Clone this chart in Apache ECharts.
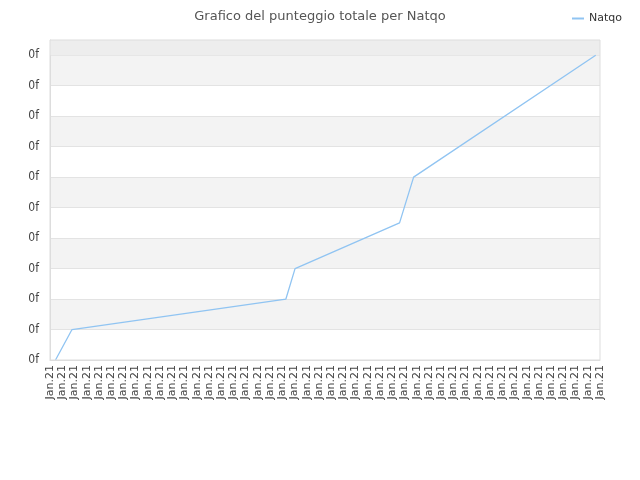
<!DOCTYPE html>
<html>
<head>
<meta charset="utf-8">
<script src="https://cdn.jsdelivr.net/npm/echarts@6/dist/echarts.min.js"></script>
<style>
html, body { margin: 0; padding: 0; background: #fff; }
#chart { width: 640px; height: 480px; }
</style>
</head>
<body>
<div id="chart"></div>
<script>
// tick labels of the x axis (all read "Jan.21")
const xLabels = Array(46).fill('Jan.21')
// line vertices: position along the label axis, total score
const scorePos = [0.45, 1.8, 19.3, 20.05, 28.6, 29.75, 44.65]
const scoreVal = [0, 1, 2, 3, 4.5, 6, 10]
const seriesName = 'Natqo'

const chart = echarts.init(document.getElementById('chart'))

const option = {
    animation: false,
    title: {
        text: 'Grafico del punteggio totale per Natqo',
        left: 'center',
        top: 5,
        textStyle: { fontFamily: 'DejaVu Sans', fontSize: 13, fontWeight: 'normal', color: '#555' }
    },
    legend: {
        right: 13,
        top: 8,
        itemWidth: 12,
        itemHeight: 2,
        itemGap: 8,
        icon: 'rect',
        textStyle: { fontFamily: 'DejaVu Sans', fontSize: 11, color: '#333' },
        data: [seriesName]
    },
    grid: { left: 50, right: 40, top: 40, bottom: 120, containLabel: false },
    xAxis: [
        {
            type: 'category',
            data: xLabels,
            boundaryGap: false,
            axisLine: { lineStyle: { color: '#ddd' } },
            axisTick: { show: false },
            axisLabel: {
                interval: 0, rotate: 90, margin: 5,
                fontFamily: 'DejaVu Sans', fontSize: 11, color: '#444'
            },
            splitLine: { show: false }
        },
        { type: 'value', min: 0, max: 45, show: false }
    ],
    yAxis: {
        type: 'value',
        min: 0,
        max: 10.5,
        interval: 1,
        axisLine: { show: true, lineStyle: { color: '#ddd' } },
        axisTick: { show: false },
        axisLabel: {
            showMaxLabel: false, margin: 11,
            fontFamily: 'DejaVu Sans Condensed, DejaVu Sans', fontSize: 12, color: '#444',
            formatter: () => '0f'
        },
        splitLine: { lineStyle: { color: '#e3e3e3' } },
        splitArea: { show: true, areaStyle: { color: ['#ffffff', '#f3f3f3'] } }
    },
    series: [{
        name: seriesName,
        type: 'line',
        xAxisIndex: 1,
        data: scorePos.map((p, i) => [p, scoreVal[i]]),
        symbol: 'none',
        lineStyle: { color: '#90c4f2', width: 1.3 },
        itemStyle: { color: '#90c4f2' },
        markArea: {
            silent: true,
            itemStyle: { color: '#ededed' },
            data: [[{ yAxis: 10 }, { yAxis: 10.5 }]]
        }
    }],
    graphic: [{
        type: 'rect',
        shape: { x: 50, y: 40, width: 550, height: 320 },
        style: { fill: 'none', stroke: '#dddddd', lineWidth: 1 },
        silent: true,
        z: 10
    }]
}

chart.setOption(option)
</script>
</body>
</html>
